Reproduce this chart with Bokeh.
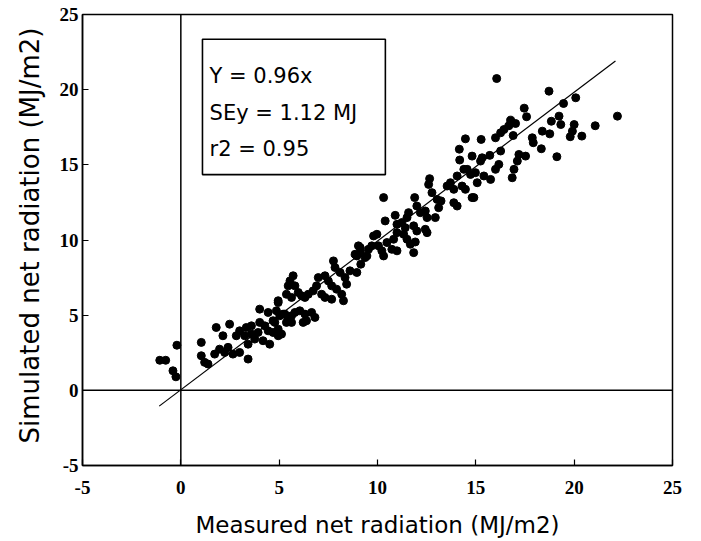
import math
from bokeh.plotting import figure
from bokeh.models import Range1d, FixedTicker, Span, BoxAnnotation, Label, ColumnDataSource, Title
from bokeh.embed import file_html
from bokeh.resources import INLINE

# ---- data ----
measured = [
    -1.07, -0.77, -0.2, -0.4, -0.25,
    1.04, 1.8, 2.48, 2.14, 1.04, 1.21, 1.38, 1.72, 1.97, 2.23, 2.4, 2.65, 2.99, 3.42, 2.82,
    2.99, 3.33, 3.59, 3.25, 3.59, 3.76, 3.42, 4.01, 4.27, 4.44, 3.93, 4.69, 4.95, 5.12, 4.52,
    4.18, 4.78, 5.03, 5.29, 4.01, 4.44, 4.95, 5.63, 5.37, 5.63, 5.8, 5.46,
    9.12, 8.86, 9.37, 9.15, 8.95, 9.71, 7.76, 7.84, 8.1, 8.35, 8.43, 8.6, 7.33, 7.5, 7.67,
    7.92, 8.18, 8.27, 6.99, 6.9, 6.73, 6.48, 5.71, 5.55, 5.8, 5.97, 6.14, 6.31, 7.16, 7.33,
    7.67, 4.95, 4.86, 5.2, 5.46, 5.63, 5.37, 6.05, 6.31, 6.65, 6.82, 6.39, 6.22, 4.69, 4.95,
    14.18, 14.39, 14.73, 14.05, 13.71, 14.3, 13.88, 13.54, 14.81, 13.88, 14.05, 12.65, 12.6,
    12.77, 13.03, 13.23, 13.11, 10.31, 11.89, 10.9, 11.58, 11.5, 12.0, 12.18, 12.43, 12.52,
    12.94, 10.39, 10.99, 11.24, 11.41, 11.84, 12.0, 12.43, 12.52, 10.99, 11.33, 9.97, 9.8,
    10.82, 10.48, 11.5, 11.67, 11.92, 10.05, 10.22, 10.31, 9.03, 9.12, 8.95, 9.54, 9.46,
    10.73, 10.99, 11.84,
    16.06, 18.72, 20.08, 19.46, 17.46, 17.58, 16.77, 17.02, 16.68, 16.43, 16.26, 19.23, 18.84,
    19.32, 20.0, 21.07, 18.38, 18.76, 19.91, 19.8, 20.39, 16.9, 16.0, 17.87, 17.92, 18.33,
    19.12, 15.27, 14.47, 16.26, 15.71, 15.32, 14.81, 17.19, 17.11, 17.53, 15.24, 16.17, 16.0,
    16.94, 16.85, 14.56, 14.98, 15.41, 15.75, 15.07, 14.47, 14.9, 22.2, 14.16,
]
simulated = [
    2.0, 2.0, 3.0, 1.3, 0.9,
    3.19, 4.18, 4.4, 3.63, 2.3, 1.86, 1.75, 2.41, 2.74, 2.52, 2.86, 2.41, 2.52, 2.08, 3.63,
    3.96, 4.18, 4.29, 3.63, 3.74, 3.41, 3.07, 4.52, 4.29, 3.96, 3.85, 3.85, 3.63, 3.74, 3.07,
    3.3, 4.52, 4.96, 5.07, 5.4, 5.18, 5.96, 6.18, 6.39, 4.96, 5.18, 6.95,
    9.5, 9.05, 8.83, 8.39, 7.84, 9.61, 8.61, 8.17, 7.84, 7.5, 7.06, 7.95, 7.62, 7.28, 6.95,
    6.73, 6.39, 5.96, 7.5, 6.95, 6.62, 6.39, 7.62, 7.28, 6.95, 6.51, 6.29, 6.18, 6.39, 6.18,
    6.06, 5.84, 5.29, 5.07, 4.85, 4.52, 4.52, 5.29, 5.07, 5.18, 4.85, 4.63, 4.52, 4.63, 4.07,
    15.32, 14.7, 14.36, 14.26, 13.81, 13.59, 13.37, 13.59, 12.82, 12.48, 12.26, 14.08, 13.7,
    13.15, 12.7, 12.6, 12.15, 12.82, 12.82, 11.64, 11.82, 11.49, 12.26, 11.82, 11.93, 11.49,
    11.49, 11.27, 11.04, 11.16, 10.82, 10.94, 10.6, 10.71, 10.49, 10.49, 10.38, 10.38, 10.27,
    10.05, 9.83, 10.05, 9.72, 9.87, 9.61, 9.28, 8.94, 9.61, 9.16, 8.94, 9.38, 8.94,
    9.38, 9.28, 9.16,
    20.74, 19.9, 19.46, 19.08, 18.77, 18.2, 17.97, 17.75, 17.6, 17.35, 17.13, 18.24, 17.9,
    17.68, 17.68, 17.6, 17.24, 17.06, 17.24, 16.87, 16.91, 16.95, 16.8, 16.8, 16.47, 16.07,
    15.54, 16.69, 16.73, 15.92, 15.63, 15.47, 15.58, 15.69, 15.25, 15.58, 15.25, 15.03, 14.7,
    14.7, 14.14, 14.7, 14.48, 14.26, 14.03, 13.81, 13.37, 12.82, 18.24, 16.04,
]
fit_x = [-1.1, 22.1]
fit_y = [-1.05, 21.9]
ticks = [-5, 0, 5, 10, 15, 20, 25]
tick_labels = {t: str(t) for t in ticks}
stats_lines = ["Y = 0.96x", "SEy = 1.12 MJ", "r2 = 0.95"]
x_title = "Measured net radiation (MJ/m2)"
y_title = "Simulated net radiation (MJ/m2)"

p = figure(frame_width=590, frame_height=451,
           x_range=Range1d(-5, 25), y_range=Range1d(-5, 25),
           output_backend="svg", toolbar_location=None,
           min_border_left=82, min_border_top=14, min_border_right=13, min_border_bottom=60)
p.grid.visible = False
p.outline_line_color = "black"
p.outline_line_width = 1.5
p.outline_line_alpha = 1.0
p.background_fill_color = "white"
p.border_fill_color = "white"

for ax in (p.xaxis[0], p.yaxis[0]):
    ax.ticker = FixedTicker(ticks=ticks)
    ax.major_label_overrides = tick_labels
    ax.axis_line_color = "black"
    ax.axis_line_width = 1.5
    ax.major_tick_line_color = "black"
    ax.major_tick_line_width = 1.2
    ax.major_tick_in = 6
    ax.major_tick_out = 0
    ax.minor_tick_line_color = None
    ax.major_label_text_font = "Liberation Serif"
    ax.major_label_text_font_style = "bold"
    ax.major_label_text_font_size = "19px"
    ax.major_label_text_color = "black"

p.xaxis[0].major_label_standoff = 15
p.yaxis[0].major_label_standoff = 4

p.xaxis[0].axis_label = x_title
p.xaxis[0].axis_label_text_font = "DejaVu Sans"
p.xaxis[0].axis_label_text_font_style = "normal"
p.xaxis[0].axis_label_text_font_size = "23px"
p.xaxis[0].axis_label_text_color = "black"
p.xaxis[0].axis_label_standoff = 15

# y title in the left panel, shifted along the axis and outward by the standoff
p.add_layout(Title(text=y_title, align="left", offset=22, text_font="DejaVu Sans",
                   text_font_size="26px", text_font_style="normal", text_color="black",
                   standoff=24), "left")

# zero lines
p.add_layout(Span(location=0, dimension="height", line_color="black", line_width=1.5))
p.add_layout(Span(location=0, dimension="width", line_color="black", line_width=1.5))

# fit line
p.line(fit_x, fit_y, line_color="black", line_width=1.2)

# points
src = ColumnDataSource(dict(x=measured, y=simulated))
p.scatter("x", "y", source=src, size=8, fill_color="black", line_color="black")

# stats box
p.add_layout(BoxAnnotation(left=1.1, right=10.4, bottom=14.35, top=23.35,
                           fill_alpha=0, line_color="black", line_width=1.6, line_alpha=1))
for txt, yy in zip(stats_lines, [20.94, 18.48, 16.02]):
    p.add_layout(Label(x=1.46, y=yy, text=txt, text_font="DejaVu Sans",
                       text_font_size="21px", text_color="black",
                       text_baseline="alphabetic", text_align="left"))

open("out.html", "w").write(file_html(p, INLINE))
